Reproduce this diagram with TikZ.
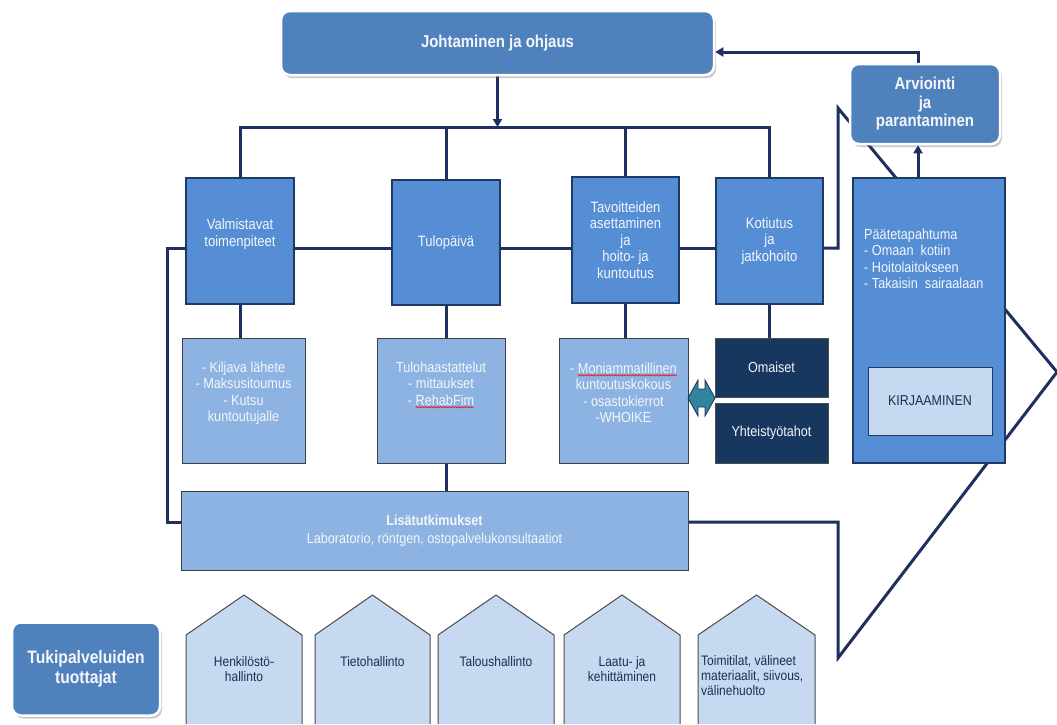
\documentclass[tikz,border=0pt]{standalone}
\usepackage{fontspec}
\setmainfont{Liberation Sans}[FakeStretch=0.87]
\usetikzlibrary{arrows.meta,shadows,backgrounds,decorations.pathmorphing}
\definecolor{midblue}{HTML}{4F81BD}
\definecolor{lvlblue}{HTML}{558ED5}
\definecolor{subblue}{HTML}{8DB3E2}
\definecolor{darknavy}{HTML}{17375E}
\definecolor{lightblue}{HTML}{C6D9F1}
\definecolor{linenavy}{HTML}{1F2F5E}
\definecolor{tealarrow}{HTML}{31859C}
\definecolor{boxedge}{HTML}{1F3864}
\definecolor{txtwhite}{HTML}{F4F6FA}
\definecolor{housetxt}{HTML}{1F2D50}
\newcommand\redwave[1]{\tikz[baseline=(rw.base),x=1pt,y=1pt]{\node[inner sep=0pt,outer sep=0pt] (rw) {#1};
  \draw[red,line width=0.6pt,decorate,decoration={snake,amplitude=0.7pt,segment length=3pt}]
    ([yshift=-1.8pt]rw.base west) -- ([yshift=-1.8pt]rw.base east);}}
\begin{document}
\begin{tikzpicture}[x=1pt,y=-1pt,
  conn/.style={draw=linenavy,line width=3pt},
  tipend/.style={-{Triangle[length=8pt,width=9pt]}},
  topbox/.style={draw=white,line width=2.5pt,fill=midblue,rounded corners=9pt,
     drop shadow={shadow xshift=2pt,shadow yshift=-3pt,opacity=0.35,fill=black!60},
     text=txtwhite,font=\fontsize{17.2}{18.5}\selectfont\bfseries,align=center,inner sep=0pt},
  lvlbox/.style={draw=boxedge,line width=1.3pt,fill=lvlblue,text=txtwhite,
     font=\fontsize{15}{16.5}\selectfont,align=center,inner sep=0pt},
  subbox/.style={draw=black!75,line width=1pt,fill=subblue,inner sep=0pt},
  darkbox/.style={draw=black!70,line width=1pt,fill=darknavy,text=txtwhite,
     font=\fontsize{14.5}{16}\selectfont,inner sep=0pt},
  txt/.style={text=txtwhite,font=\fontsize{14.6}{16.5}\selectfont,align=center,inner sep=0pt},
  house/.style={draw=black!70,line width=1pt,fill=lightblue},
  housetext/.style={text=housetxt,font=\fontsize{13.8}{15}\selectfont,align=center,inner sep=0pt}
]
\useasboundingbox (0,0) rectangle (1057,724);

% top boxes
\node[topbox,minimum width=433pt,minimum height=64pt] (J) at (497.5,43) {Johtaminen ja ohjaus};
\node[topbox,minimum width=150pt,minimum height=80pt] (A) at (925,104) {Arviointi\\ja\\parantaminen};
\node[topbox,minimum width=148pt,minimum height=93pt,font=\fontsize{18}{20}\selectfont\bfseries] (TP) at (86,669) {Tukipalveluiden\\tuottajat};

% level-1 boxes
\node[lvlbox,minimum width=108pt,minimum height=126pt] (V) at (240,241) {Valmistavat\\toimenpiteet\\\mbox{}};
\node[lvlbox,minimum width=108pt,minimum height=125pt] (T) at (446,242.5) {Tulopäivä};
\node[lvlbox,minimum width=107pt,minimum height=126pt] (G) at (625.5,240) {Tavoitteiden\\asettaminen\\ja\\hoito- ja\\kuntoutus};
\node[lvlbox,minimum width=107pt,minimum height=126pt] (K) at (769.5,241) {Kotiutus\\ja\\jatkohoito};
\node[lvlbox,minimum width=152pt,minimum height=285pt] (P) at (929,320.5) {};
\node[txt,align=left,anchor=west] (Pt) at (864,259) {Päätetapahtuma\\- Omaan\ \ kotiin\\- Hoitolaitokseen\\- Takaisin\ \ sairaalaan};
\node[draw=boxedge,line width=1pt,fill=lightblue,minimum width=124pt,minimum height=68pt,
      text=housetxt,font=\fontsize{14.3}{16}\selectfont,inner sep=0pt] (KI) at (930,401) {KIRJAAMINEN};

% sub boxes
\node[subbox,minimum width=123pt,minimum height=125pt] (S1) at (243.5,400.5) {};
\node[txt] (S1t) at (243.5,393) {- Kiljava lähete\\- Maksusitoumus\\- Kutsu\\kuntoutujalle};
\node[subbox,minimum width=128pt,minimum height=125pt] (S2) at (441,400.5) {};
\node[txt] (S2t) at (441,385) {Tulohaastattelut\\- mittaukset\\- \redwave{RehabFim}};
\node[subbox,minimum width=129pt,minimum height=125pt] (S3) at (623.5,400.5) {};
\node[txt] (S3t) at (623.5,393) {- \redwave{Moniammatillinen}\\kuntoutuskokous\\- osastokierrot\\-WHOIKE};
\node[darkbox,minimum width=113pt,minimum height=59pt] (O) at (771.5,367.5) {Omaiset};
\node[darkbox,minimum width=113pt,minimum height=60pt] (Y) at (771.5,433) {Yhteistyötahot};
\node[subbox,minimum width=507pt,minimum height=79pt,txt,font=\fontsize{14.5}{17.5}\selectfont] (L) at (434.5,530.5)
  {\textbf{Lisätutkimukset}\\Laboratorio, röntgen, ostopalvelukonsultaatiot};

% double arrow between S3 and O/Y
\draw[draw=linenavy,line width=0.8pt,fill=tealarrow] (688,398) -- (698,380) -- (698,389) -- (705,389)
  -- (705,380) -- (715,398) -- (705,416) -- (705,407) -- (698,407) -- (698,416) -- cycle;

% support houses
\path[house] (186,724) -- (186,635) -- (244,595) -- (302,635) -- (302,724);
\path[house] (315,724) -- (315,635) -- (372.5,595) -- (430,635) -- (430,724);
\path[house] (438,724) -- (438,635) -- (496,595) -- (554,635) -- (554,724);
\path[house] (564,724) -- (564,635) -- (622,595) -- (680,635) -- (680,724);
\path[house] (698,724) -- (698,635) -- (756.5,595) -- (815,635) -- (815,724);
\node[housetext] (H1) at (244,669.5) {Henkilöstö-\\hallinto};
\node[housetext] (H2) at (372.5,662) {Tietohallinto};
\node[housetext] (H3) at (496,662) {Taloushallinto};
\node[housetext] (H4) at (622,669.5) {Laatu- ja\\kehittäminen};
\node[housetext,align=left,anchor=west] (H5) at (701,676) {Toimitilat, välineet\\materiaalit, siivous,\\välinehuolto};

% coordinates
\coordinate (busy) at (0,127);
\coordinate (midy) at (0,248);
\coordinate (lc) at (167,522);
\coordinate (apex) at (838,108);
\coordinate (tipR) at (1057,372);
\coordinate (botL) at (838,658);
\coordinate (fy) at (0,52);

\begin{scope}[on background layer]
\fill[white] (0,0) rectangle (1057,724);
\draw[conn,tipend] (J.south) -- (J.south |- busy);
\draw[conn] (V.north) -- (V.north |- busy) -- (K.north |- busy) -- (K.north);
\draw[conn] (T.north) -- (T.north |- busy);
\draw[conn] (G.north) -- (G.north |- busy);
\draw[conn] (V.east |- midy) -- (T.west |- midy);
\draw[conn] (T.east |- midy) -- (G.west |- midy);
\draw[conn] (G.east |- midy) -- (K.west |- midy);
\draw[conn] (V.west |- midy) -| (lc) -- (L.west |- lc);
\draw[conn] (K.east |- midy) -| (apex) -- (tipR) -- (botL) |- (L.east |- lc);
\draw[conn] (V.south) -- (V.south |- S1.north);
\draw[conn] (T.south) -- (T.south |- S2.north);
\draw[conn] (G.south) -- (G.south |- S3.north);
\draw[conn] (K.south) -- (K.south |- O.north);
\draw[conn] (T.south |- S2.south) -- (T.south |- L.north);
\draw[conn,tipend] ([xshift=-7pt]A.south |- P.north) -- ([xshift=-7pt]A.south);
\draw[conn,tipend] ([xshift=-7pt]A.north) |- (J.east |- fy);
\end{scope}
\end{tikzpicture}
\end{document}
